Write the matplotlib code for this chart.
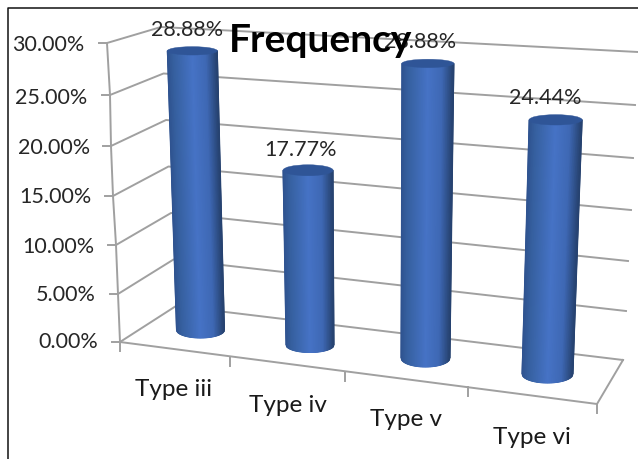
import numpy as np
import matplotlib
matplotlib.use("Agg")
import matplotlib.pyplot as plt
from matplotlib.colors import LinearSegmentedColormap
from matplotlib.patches import Ellipse

categories = ["Type iii", "Type iv", "Type v", "Type vi"]
values = [28.88, 17.77, 28.88, 24.44]
value_labels = ["28.88%", "17.77%", "28.88%", "24.44%"]
ticks = [0, 5, 10, 15, 20, 25, 30]
tick_labels = ["0.00%", "5.00%", "10.00%", "15.00%", "20.00%", "25.00%", "30.00%"]
title = "Frequency"

# projected geometry of the pseudo-3D scene (pixels)
VMAX = 30.0
axis_x = [120, 118, 116, 113, 111, 110, 107]
axis_y = [342, 294, 245, 196, 146, 95, 43]
right_x = [623, 626, 628, 631, 633, 635, 638]
right_y = [360, 311, 261, 210, 158, 105, 52]
corner_bottom = (176, 306)
corner_top = (161, 27)
floor_front_right = (597, 404)
cat_ticks = [(120, 342), (230, 357), (345, 372), (468, 387), (597, 404)]
base_x = [200.5, 310, 425.5, 547.5]
base_y = [330, 345, 358, 374]
top_x = [192, 306.7, 428, 557.5]
top_y = [40, 50, 52, 62]
half_base = [24, 24, 24.5, 25.5]
half_top = [25, 25, 26, 26.5]
ry_base = [8, 7.5, 9, 9]
ry_top = [4.2, 5.5, 4.2, 5.2]
label_pos = [(187, 30), (301, 150), (420, 42), (545, 98)]
cat_pos = [(174, 390), (288, 405), (406, 420), (532, 437)]
tick_right = [98, 96, 94, 92, 90, 87, 84]
tick_text_y = [342, 295, 247, 197, 148, 98, 45]

plt.rcParams["font.family"] = ["Lato", "DejaVu Sans"]
fig = plt.figure(figsize=(6.38, 4.59), dpi=100, facecolor="white")
ax = fig.add_axes([0, 0, 1, 1])
ax.set_xlim(0, 638)
ax.set_ylim(459, 0)
ax.axis("off")

# outer frame
ax.plot([8, 8, 638], [459, 8, 8], color="#111111", lw=1.1, zorder=1, solid_capstyle="butt")

GRID = "#a0a0a0"
LW = 1.4
for i, t in enumerate(ticks):
    f = t / VMAX
    cx = corner_bottom[0] + f * (corner_top[0] - corner_bottom[0])
    cy = corner_bottom[1] + f * (corner_top[1] - corner_bottom[1])
    ax.plot([axis_x[i], cx, right_x[i]], [axis_y[i], cy, right_y[i]], color=GRID, lw=LW, zorder=2)
    ax.plot([axis_x[i] - 8, axis_x[i]], [axis_y[i], axis_y[i]], color=GRID, lw=LW, zorder=2)
    ax.text(tick_right[i], tick_text_y[i], tick_labels[i], ha="right", va="center",
            fontsize=15.5, color="#262626", zorder=6)
ax.plot(axis_x, axis_y, color=GRID, lw=LW, zorder=2)
ax.plot([cat_ticks[0][0], floor_front_right[0], right_x[0]],
        [cat_ticks[0][1], floor_front_right[1], right_y[0]], color=GRID, lw=LW, zorder=2)
for x, y in cat_ticks:
    ax.plot([x, x], [y, y + 9], color=GRID, lw=LW, zorder=2)

cmap = LinearSegmentedColormap.from_list(
    "cyl", [(0, "#2f5390"), (0.12, "#36609f"), (0.5, "#4673c6"), (0.78, "#3e68b4"), (1, "#26426f")])
N = 80
for i, v in enumerate(values):
    f = v / VMAX
    xt = base_x[i] + f * (top_x[i] - base_x[i])
    yt = base_y[i] + f * (top_y[i] - base_y[i])
    s = np.linspace(-1, 1, N)
    X = np.vstack([xt + s * half_top[i], base_x[i] + s * half_base[i]])
    Y = np.vstack([np.full(N, yt), base_y[i] + ry_base[i] * np.sqrt(1 - s * s)])
    C = np.vstack([(s + 1) / 2, (s + 1) / 2])
    ax.pcolormesh(X, Y, C, shading="gouraud", cmap=cmap, vmin=0, vmax=1, zorder=3)
    ax.add_patch(Ellipse((xt, yt), 2 * half_top[i], 2 * ry_top[i], facecolor="#2f5597",
                         edgecolor="#2f5597", lw=0.3, zorder=4))
    ax.text(label_pos[i][0], label_pos[i][1], value_labels[i], ha="center", va="center",
            fontsize=15.5, color="#262626", zorder=5)
    ax.text(cat_pos[i][0], cat_pos[i][1], categories[i], ha="center", va="center",
            fontsize=17.5, color="#1a1a1a", zorder=6)

ax.text(321, 40, title, ha="center", va="center", fontsize=28, fontweight="bold",
        color="black", zorder=7)

fig.savefig("out.png", dpi=100)
